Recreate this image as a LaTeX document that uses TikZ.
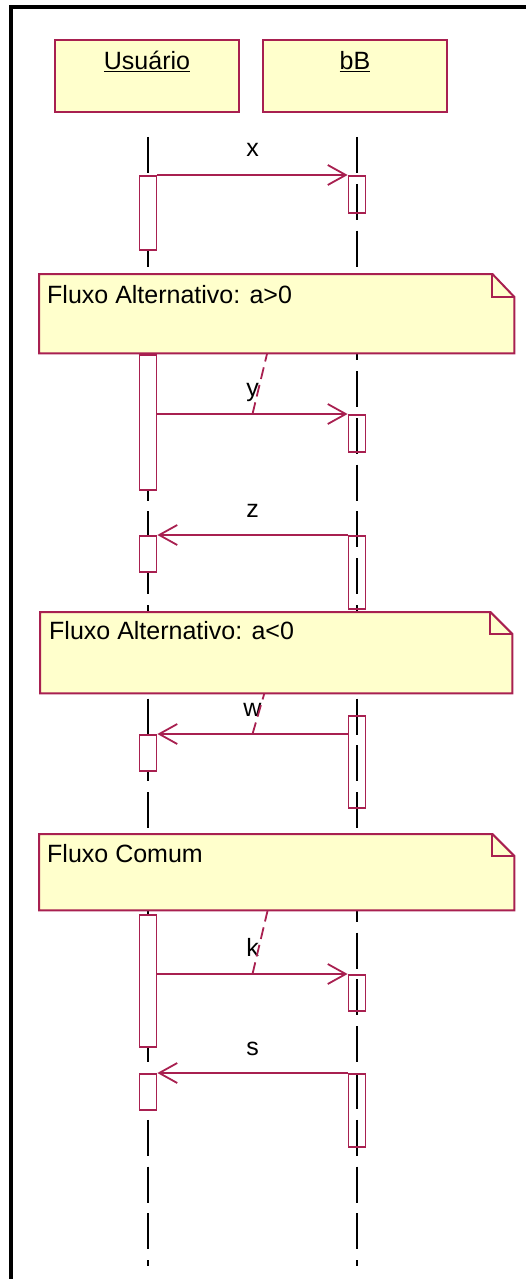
\documentclass[tikz,border=0pt]{standalone}
\usepackage{fontspec}
\setmainfont{Liberation Sans}
\usetikzlibrary{arrows.meta,positioning}
\definecolor{umlred}{RGB}{168,32,80}
\definecolor{umlyellow}{RGB}{255,255,204}
\tikzset{
  txt/.style={font=\fontsize{25}{30}\selectfont,inner sep=0pt},
  actor/.style={rectangle,draw=umlred,fill=umlyellow,line width=2pt,minimum width=184pt,minimum height=72pt,anchor=north,inner sep=0pt},
  lifeline/.style={draw=black,line width=1.8pt,dash pattern=on 36pt off 10.8pt},
  actv/.style={rectangle,draw=umlred,fill=white,line width=1.8pt,minimum width=17pt,anchor=north,inner sep=0pt},
  msg/.style={draw=umlred,line width=1.8pt,-{Straight Barb[length=18pt,width=20pt]}},
  msglabel/.style={txt,anchor=base,yshift=18pt},
  notebox/.style={rectangle,draw=none,anchor=north west,inner sep=0pt},
  notefold/.style={draw=umlred,fill=umlyellow,line width=2pt,line join=miter},
  notetext/.style={txt,anchor=base west},
  anchorline/.style={draw=umlred,line width=1.8pt,dash pattern=on 12pt off 6pt}
}
\begin{document}
\begin{tikzpicture}[x=1pt,y=-1pt]
  \useasboundingbox (0,0) rectangle (526,1279);
  % frame
  \draw[line width=3.2pt] (11,1279) -- (11,7) -- (526,7);
  % objects
  \node[actor] (usr) at (147,39) {};
  \node[txt,anchor=base] at ([yshift=-31pt]usr.north) {\underline{Usuário}};
  \node[actor] (bb) at (355,39) {};
  \node[txt,anchor=base] at ([yshift=-31pt]bb.north) {\underline{bB}};
  % lifelines
  \coordinate (usrtop) at (148,137);
  \coordinate (bbtop) at (357,137);
  \coordinate (usrend) at (148,1266);
  \coordinate (bbend) at (357,1266);
  \draw[lifeline] (usrtop) -- (usrend);
  \draw[lifeline] (bbtop) -- (bbend);
  % note a>0
  \node[notebox,minimum width=475pt,minimum height=79pt] (n1) at (39,274) {};
  \filldraw[notefold] (n1.north west) -- ([xshift=-22pt]n1.north east) -- ([yshift=-23pt]n1.north east) -- (n1.south east) -- (n1.south west) -- cycle;
  \draw[notefold,fill=none] ([xshift=-22pt]n1.north east) |- ([yshift=-23pt]n1.north east);
  \node[notetext] at ([xshift=8pt,yshift=-29pt]n1.north west) {Fluxo Alternativo: a>0};
  % note a<0
  \node[notebox,minimum width=472pt,minimum height=81pt] (n2) at (40,612) {};
  \filldraw[notefold] (n2.north west) -- ([xshift=-22pt]n2.north east) -- ([yshift=-22pt]n2.north east) -- (n2.south east) -- (n2.south west) -- cycle;
  \draw[notefold,fill=none] ([xshift=-22pt]n2.north east) |- ([yshift=-22pt]n2.north east);
  \node[notetext] at ([xshift=9pt,yshift=-27pt]n2.north west) {Fluxo Alternativo: a<0};
  % note comum
  \node[notebox,minimum width=475pt,minimum height=76pt] (n3) at (39,834) {};
  \filldraw[notefold] (n3.north west) -- ([xshift=-22pt]n3.north east) -- ([yshift=-22pt]n3.north east) -- (n3.south east) -- (n3.south west) -- cycle;
  \draw[notefold,fill=none] ([xshift=-22pt]n3.north east) |- ([yshift=-22pt]n3.north east);
  \node[notetext] at ([xshift=8pt,yshift=-28pt]n3.north west) {Fluxo Comum};
  % activations of Usuario
  \node[actv,minimum height=74pt] (ua1) at (148,175) {};
  \node[actv,minimum height=135pt] (ua2) at (148,354) {};
  \node[actv,minimum height=36pt] (ua3) at (148,535) {};
  \node[actv,minimum height=36pt] (ua4) at (148,734) {};
  \node[actv,minimum height=132pt] (ua5) at (148,914) {};
  \node[actv,minimum height=36pt] (ua6) at (148,1073) {};
  % activations of bB
  \node[actv,fill=none,minimum height=37pt] (ba1) at (357,175) {};
  \node[actv,fill=none,minimum height=37pt] (ba2) at (357,414) {};
  \node[actv,fill=none,minimum height=73pt] (ba3) at (357,535) {};
  \node[actv,fill=none,minimum height=92pt] (ba4) at (357,715) {};
  \node[actv,fill=none,minimum height=36pt] (ba5) at (357,974) {};
  \node[actv,fill=none,minimum height=73pt] (ba6) at (357,1073) {};
  % messages
  \draw[msg] (ua1.north east) -- node[msglabel]{x} (ba1.north west);
  \draw[msg] (ba2.north west -| ua2.east) -- coordinate[midway] (my) node[msglabel]{y} (ba2.north west);
  \draw[msg] (ba3.north west) -- node[msglabel]{z} (ua3.north east);
  \draw[msg] (ua4.north east -| ba4.west) -- coordinate[midway] (mw) node[msglabel]{w} (ua4.north east);
  \draw[msg] (ba5.north west -| ua5.east) -- coordinate[midway] (mk) node[msglabel]{k} (ba5.north west);
  \draw[msg] (ba6.north west) -- node[msglabel]{s} (ua6.north east);
  % note anchors
  \draw[anchorline] (my) -- (n1);
  \draw[anchorline] (mw) -- (n2);
  \draw[anchorline] (mk) -- (n3);
\end{tikzpicture}
\end{document}
